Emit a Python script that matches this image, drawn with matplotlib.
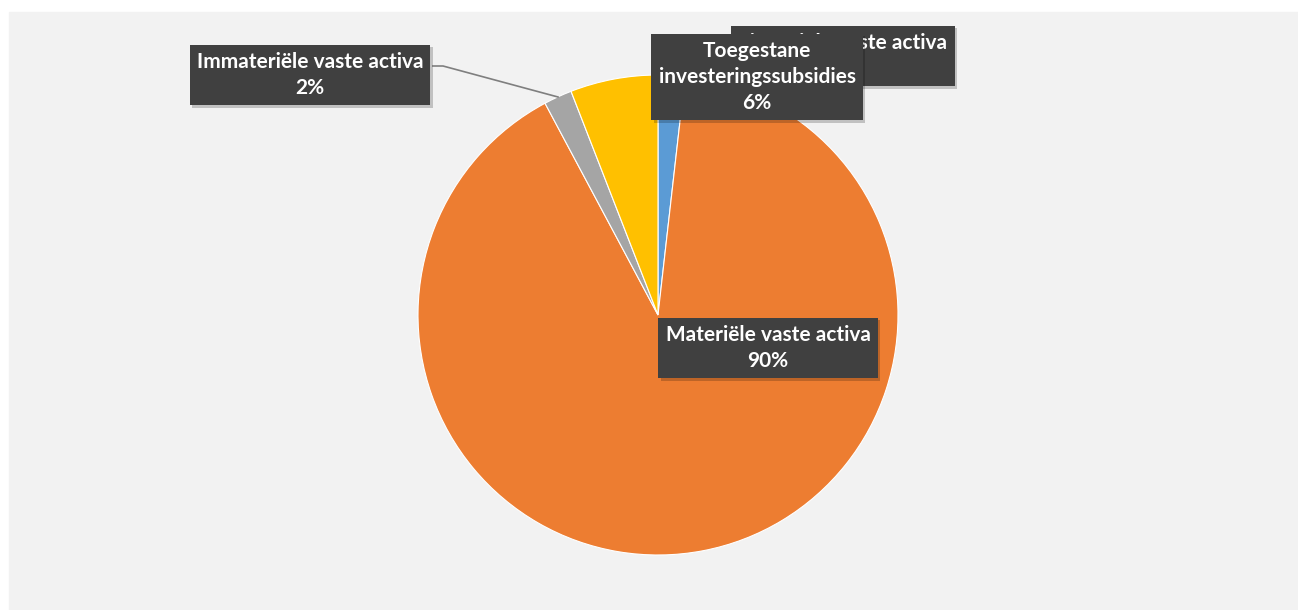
import matplotlib.pyplot as plt
import matplotlib.patheffects as pe
from matplotlib.patches import Rectangle

# share of fixed assets (percent)
labels = ['Financiële vaste activa', 'Materiële vaste activa',
          'Immateriële vaste activa', 'Toegestane\ninvesteringssubsidies']
values = [1.8, 90.4, 1.9, 5.9]
colors = ['#5B9BD5', '#ED7D31', '#A5A5A5', '#FFC000']

W, H = 1298, 610
fig = plt.figure(figsize=(W / 100, H / 100), dpi=100)
ax = fig.add_axes([0, 0, 1, 1])

wedges, _ = ax.pie(values, colors=colors, startangle=90, counterclock=False,
                   center=(658, H - 315), radius=240,
                   wedgeprops=dict(edgecolor='white', linewidth=0.8))
for w in wedges:
    w.set_zorder(2)

# pie() resets the limits, so set them afterwards
ax.set_xlim(0, W)
ax.set_ylim(0, H)
ax.set_aspect('equal')
ax.axis('off')

# light chart area
ax.add_patch(Rectangle((9, 0), W - 9, H - 12, color='#F2F2F2', zorder=0))

# label box centres (pixel coords, y from top)
label_pos = [(843, 56), (768, 348), (310, 75), (757, 77)]

shadow = [pe.withSimplePatchShadow(offset=(2, -2), shadow_rgbFace='#000000', alpha=0.2)]
for i, (lab, v) in enumerate(zip(labels, values)):
    x, y = label_pos[i]
    t = ax.text(x, H - y, f'{lab}\n{v:.0f}%', ha='center', va='center',
                color='white', fontsize=15, fontweight='bold', family='Lato',
                linespacing=1.4, zorder=5 + (1 if i == 3 else 0),
                bbox=dict(boxstyle='square,pad=0.34', fc='#404040', ec='none'))
    t.get_bbox_patch().set_path_effects(shadow)

# leader line for the small grey slice
ax.plot([433, 443, 558], [H - 66, H - 66, H - 97], color='#7F7F7F', lw=1.2, zorder=4)

fig.savefig('out.png', dpi=100, facecolor='white')
